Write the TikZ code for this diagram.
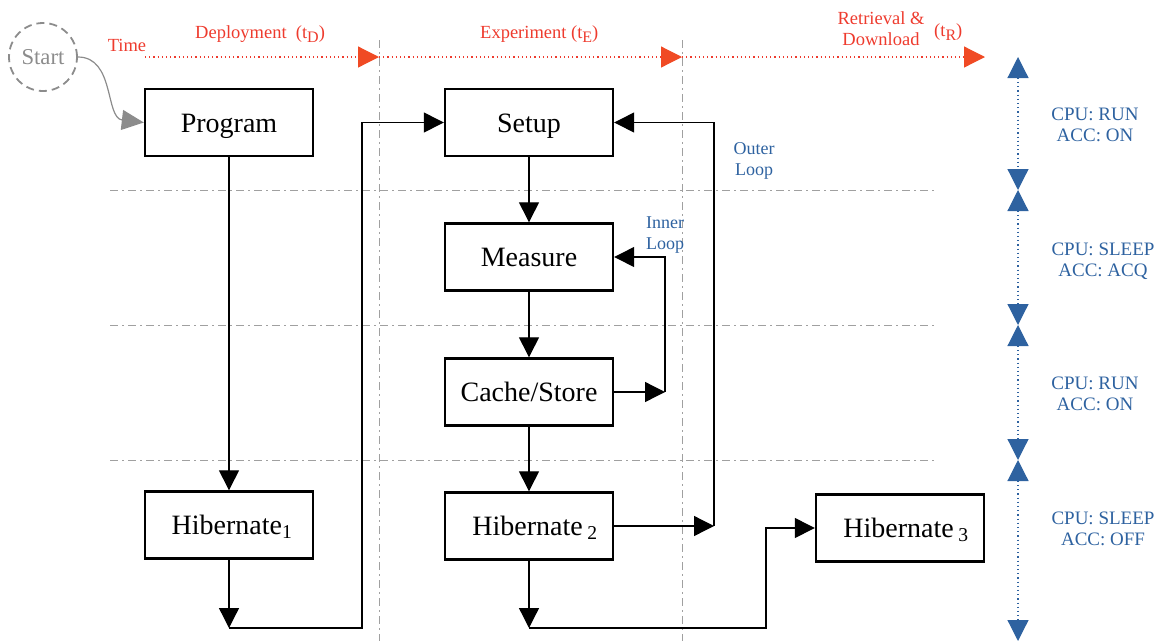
\documentclass[tikz,border=0pt]{standalone}
\usepackage{fontspec}
\setmainfont{Liberation Serif}
\usetikzlibrary{arrows.meta}
\definecolor{tred}{HTML}{EE3B2E}
\definecolor{tarrow}{HTML}{F04A24}
\definecolor{tblue}{HTML}{2E62A0}
\definecolor{tgray}{HTML}{A0A0A0}
\definecolor{sgray}{HTML}{8C8C8C}
\begin{document}
\begin{tikzpicture}[x=1pt,y=-1pt,
  box/.style={draw,line width=2.4pt,minimum width=168pt,minimum height=67pt,inner sep=0pt,text height=19pt,text depth=0pt,font=\fontsize{28}{32}\selectfont},
  conn/.style={line width=1.3pt,-{Triangle[length=20pt,width=20pt]}},
  grid/.style={tgray,line width=1pt,dash pattern=on 8pt off 4pt on 2pt off 4pt},
  timeline/.style={tred,line width=1.2pt,dash pattern=on 1.2pt off 3pt,-{Triangle[length=21pt,width=21pt,color=tarrow]}},
  state/.style={tblue,line width=1.2pt,dash pattern=on 1.2pt off 3pt,{Triangle[length=21pt,width=21pt]}-{Triangle[length=21pt,width=21pt]}},
  redtxt/.style={text=tred,inner sep=0pt,font=\fontsize{18.5}{21}\selectfont},
  bluetxt/.style={text=tblue,inner sep=0pt,align=center,font=\fontsize{19}{21}\selectfont},
  looptxt/.style={text=tblue,inner sep=0pt,align=center,font=\fontsize{18}{21}\selectfont}]
\useasboundingbox (0,0) rectangle (1163,641);

% grid lines
\draw[grid] (110,190) -- (935,190);
\draw[grid] (110,325) -- (935,325);
\draw[grid] (110,460) -- (935,460);
\draw[grid] (379,40) -- (379,641);
\draw[grid] (682,40) -- (682,641);

% time line
\coordinate (t0) at (145,57);
\coordinate (tD) at (379,57);
\coordinate (tE) at (682,57);
\coordinate (tR) at (985,57);
\draw[timeline] (t0) -- (tD);
\draw[timeline] (tD) -- (tE);
\draw[timeline] (tE) -- (tR);
\node[redtxt,anchor=base] (time) at (127,51) {Time};
\node[redtxt,anchor=base west] (dep) at (195,38) {Deployment\ \ (t\raisebox{-4pt}{\fontsize{16}{16}\selectfont D})};
\node[redtxt,anchor=base west] (exp) at (480,38) {Experiment (t\raisebox{-4pt}{\fontsize{16}{16}\selectfont E})};
\node[redtxt,anchor=base,align=center] (ret) at (881,45) {Retrieval \&\\Download};
\node[redtxt,anchor=base west] (retT) at (934,36) {(t\raisebox{-4pt}{\fontsize{16}{16}\selectfont R})};

% state timeline
\coordinate (s0) at (1018,57);
\coordinate (s1) at (1018,190);
\coordinate (s2) at (1018,325);
\coordinate (s3) at (1018,460);
\coordinate (s4) at (1018,641);
\draw[state] (s0) -- (s1);
\draw[state] (s1) -- (s2);
\draw[state] (s2) -- (s3);
\draw[state] (s3) -- (s4);
\node[bluetxt,anchor=base] (st1) at (1095,141) {CPU: RUN\\ACC: ON};
\node[bluetxt,anchor=base] (st2) at (1103,276) {CPU: SLEEP\\ACC: ACQ};
\node[bluetxt,anchor=base] (st3) at (1095,410) {CPU: RUN\\ACC: ON};
\node[bluetxt,anchor=base] (st4) at (1103,545) {CPU: SLEEP\\ACC: OFF};

% start
\node[circle,draw=sgray,line width=1.8pt,dash pattern=on 8pt off 5pt,minimum size=68pt,inner sep=0pt,text=sgray,font=\fontsize{22.7}{26}\selectfont] (start) at (43,57) {Start};

% boxes
\node[box] (prog) at (229,122.5) {Program};
\node[box] (setup) at (529,122.5) {Setup};
\node[box] (meas) at (529,257) {Measure};
\node[box] (cache) at (529,392) {Cache/Store};
\node[box] (h1) at (229,525) {\hspace*{6pt}Hibernate\textsubscript{1}};
\node[box] (h2) at (529,526) {\hspace*{12pt}Hibernate\,\textsubscript{2}};
\node[box] (h3) at (900,528) {\hspace*{12pt}Hibernate\,\textsubscript{3}};

\draw[sgray,line width=1.2pt,-{Triangle[length=22pt,width=20pt]}] (start.east) .. controls (115,57) and (105,118) .. (prog.west);

% connectors
\draw[conn] (prog) -- (h1);
\coordinate (c1) at (229,628);
\coordinate (k1) at (362,122.5);
\draw[conn] (h1) -- (c1);
\draw[conn] (c1) -| (k1) -- (setup.west);

\draw[conn] (setup) -- (meas);
\draw[conn] (meas) -- (cache);
\draw[conn] (cache) -- (h2);

\coordinate (i1) at (665,392);
\draw[conn] (cache.east) -- (i1);
\draw[conn] (i1) |- (meas.east);

\coordinate (o1) at (714,526);
\draw[conn] (h2.east) -- (o1);
\draw[conn] (o1) |- (setup.east);

\coordinate (c2) at (529,628);
\coordinate (k2) at (766,528);
\draw[conn] (h2) -- (c2);
\draw[conn] (c2) -| (k2) -- (h3.west);

\node[looptxt,anchor=base] (outer) at (754,175) {Outer\\Loop};
\node[looptxt,anchor=base] (inner) at (665,249) {Inner\\Loop};
\end{tikzpicture}
\end{document}
